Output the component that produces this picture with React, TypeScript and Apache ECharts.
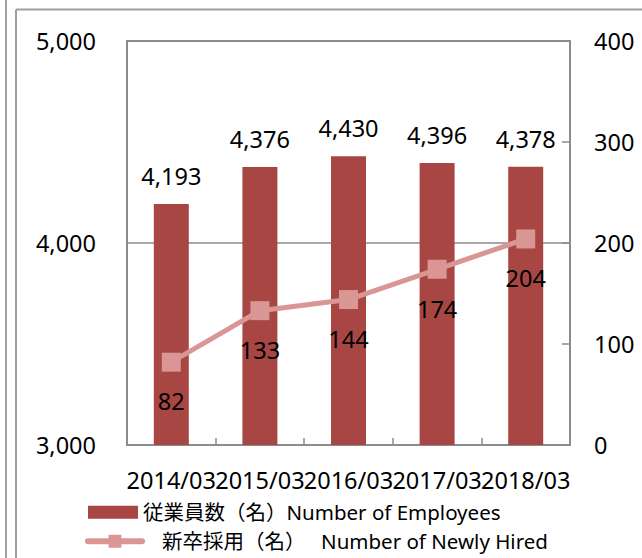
import React, { useEffect, useRef } from "react";
import * as echarts from "echarts";

const categories = ["2014/03", "2015/03", "2016/03", "2017/03", "2018/03"];
const employees = [4193, 4376, 4430, 4396, 4378];
const newHires = [82, 133, 144, 174, 204];
const leftTicks = { min: 3000, max: 5000, interval: 1000 };
const rightTicks = { min: 0, max: 400, interval: 100 };
const seriesNames = ["従業員数（名）Number of Employees", "新卒採用（名）　 Number of Newly Hired"];

const FONT = "'Noto Sans', 'Noto Sans CJK JP', sans-serif";
const BAR = "#a84643";
const LINE = "#d99694";
const AXIS = "#8c8c8c";

export default function App() {
  const ref = useRef<HTMLDivElement>(null);
  useEffect(() => {
    if (!ref.current) return;
    const chart = echarts.init(ref.current, null, { renderer: "svg" });
    chart.setOption({
      animation: false,
      backgroundColor: "#ffffff",
      textStyle: { fontFamily: FONT },
      grid: {
        left: 127,
        right: 72,
        top: 41,
        bottom: 113,
        show: true,
        borderColor: AXIS,
        borderWidth: 2,
        backgroundColor: "transparent",
      },
      graphic: [
        { type: "line", shape: { x1: 6, y1: 0, x2: 6, y2: 558 }, style: { stroke: "#a0a0a0", lineWidth: 2 } },
        { type: "line", shape: { x1: 16, y1: 9.5, x2: 16, y2: 558 }, style: { stroke: "#a0a0a0", lineWidth: 2 } },
        { type: "line", shape: { x1: 16, y1: 9.5, x2: 642, y2: 9.5 }, style: { stroke: "#a0a0a0", lineWidth: 2 } },
      ],
      legend: [
        {
          data: [{ name: seriesNames[0], icon: "rect" }],
          left: 88,
          top: 502,
          itemWidth: 50,
          itemHeight: 13,
          padding: 0,
          textStyle: { fontFamily: FONT, fontSize: 20.5, color: "#000" },
        },
        {
          data: [{ name: seriesNames[1] }],
          left: 85,
          top: 531,
          itemWidth: 54,
          itemHeight: 16,
          padding: 0,
          lineStyle: { width: 6, cap: "round", color: LINE },
          textStyle: { fontFamily: FONT, fontSize: 20.5, color: "#000", padding: [0, 0, 0, 15] },
        },
      ],
      xAxis: {
        type: "category",
        data: categories,
        axisLine: { lineStyle: { color: AXIS, width: 2 } },
        axisTick: { show: true, inside: true, length: 7, lineStyle: { color: AXIS, width: 1.5 } },
        axisLabel: { interval: 0, color: "#000", fontSize: 23.5, fontFamily: FONT, margin: 23 },
      },
      yAxis: [
        {
          type: "value",
          min: leftTicks.min,
          max: leftTicks.max,
          interval: leftTicks.interval,
          position: "left",
          axisLine: { show: true, lineStyle: { color: AXIS, width: 2 } },
          axisTick: { show: false },
          splitLine: { show: true, lineStyle: { color: AXIS, width: 1.5 } },
          axisLabel: {
            color: "#000",
            fontSize: 23.5,
            fontFamily: FONT,
            margin: 31,
            formatter: (v: number) => v.toLocaleString("en-US"),
          },
        },
        {
          type: "value",
          min: rightTicks.min,
          max: rightTicks.max,
          interval: rightTicks.interval,
          position: "right",
          axisLine: { show: true, lineStyle: { color: AXIS, width: 2 } },
          axisTick: { show: true, inside: true, length: 8, lineStyle: { color: AXIS, width: 1.5 } },
          splitLine: { show: false },
          axisLabel: { color: "#000", fontSize: 23.5, fontFamily: FONT, margin: 24 },
        },
      ],
      series: [
        {
          name: seriesNames[0],
          type: "bar",
          data: employees,
          yAxisIndex: 0,
          barWidth: 35,
          itemStyle: { color: BAR },
          label: {
            show: true,
            position: "top",
            distance: 16,
            color: "#000",
            fontSize: 23.5,
            fontFamily: FONT,
            formatter: (p: any) => Number(p.value).toLocaleString("en-US"),
          },
        },
        {
          name: seriesNames[1],
          type: "line",
          data: newHires,
          yAxisIndex: 1,
          symbol: "rect",
          symbolSize: 19,
          lineStyle: { color: LINE, width: 5 },
          itemStyle: { color: LINE },
          label: {
            show: true,
            position: "bottom",
            distance: 18,
            color: "#000",
            fontSize: 23.5,
            fontFamily: FONT,
          },
          z: 5,
        },
      ],
    });
    return () => chart.dispose();
  }, []);
  return (
    <div
      ref={ref}
      style={{ position: "absolute", left: 0, top: 0, width: 642, height: 558 }}
    />
  );
}
